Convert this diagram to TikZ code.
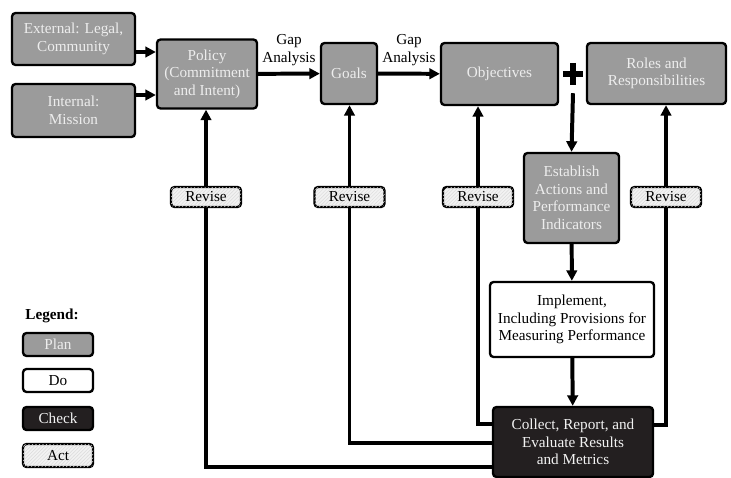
\documentclass[tikz,border=0pt]{standalone}
\usepackage{fontspec}
\setmainfont{Liberation Serif}
\usetikzlibrary{arrows.meta,patterns}

\definecolor{plangray}{HTML}{9B9B9B}
\definecolor{checkblack}{HTML}{231F20}

\begin{document}
\begin{tikzpicture}[x=0.03cm, y=-0.03cm,
  box/.style = {draw, line width=2pt, rounded corners=3pt, align=center, inner sep=1pt, font=\fontsize{13}{15}\selectfont},
  planbox/.style = {box, fill=plangray, text=white!93!black},
  dobox/.style = {box, fill=white},
  checkbox/.style = {box, fill=checkblack, text=white!95!black},
  actbox/.style = {box, fill=gray!10, postaction={pattern=north east lines, pattern color=gray!28}},
  sz/.style 2 args = {minimum width=#1*0.03cm, minimum height=#2*0.03cm},
  arr/.style = {line width=3.4pt, -{Triangle[length=9pt, width=9pt]}},
  ln/.style = {line width=3.4pt, line join=miter}]
\useasboundingbox (0,0) rectangle (731,477);

% Plan boxes
\node[planbox, sz={123}{52}] (external) at (73.5,39) {External: Legal,\\Community};
\node[planbox, sz={123}{53}] (internal) at (73.5,110.5) {Internal:\\Mission};
\node[planbox, sz={100}{69}] (policy) at (207,74) {Policy\\(Commitment\\and Intent)};
\node[planbox, sz={56}{61}] (goals) at (349,73.5) {Goals};
\node[planbox, sz={117}{62}] (objectives) at (499.5,74) {Objectives};
\node[planbox, sz={139}{61}] (roles) at (656.5,73.5) {Roles and\\Responsibilities};
\node[planbox, sz={95}{90}] (establish) at (571.5,198) {Establish\\Actions and\\Performance\\Indicators};

% the plus sign
\node[sz={20}{22}, inner sep=0] (plus) at (573,74) {};
\draw[line width=5.5pt] (plus.north) -- (plus.south) (plus.west) -- (plus.east);

% Do / Check
\node[dobox, sz={164}{75}] (implement) at (572,319.5) {Implement,\\Including Provisions for\\Measuring Performance};
\node[checkbox, sz={160}{70}] (collect) at (573,442) {Collect, Report, and\\Evaluate Results\\and Metrics};

% Act
\node[actbox, sz={70}{20}] (rev1) at (206,197) {Revise};
\node[actbox, sz={70}{20}] (rev2) at (349.5,197) {Revise};
\node[actbox, sz={70}{20}] (rev3) at (478,197) {Revise};
\node[actbox, sz={70}{20}] (rev4) at (666,197) {Revise};

% Legend
\node[font=\bfseries\fontsize{13}{15}\selectfont] (legend) at (52,316) {Legend:};
\node[planbox, sz={70}{23}] (lplan) at (58,344.5) {Plan};
\node[dobox, sz={70}{23}] (ldo) at (58,380.5) {Do};
\node[checkbox, sz={70}{23}] (lcheck) at (58,418.5) {Check};
\node[actbox, sz={70}{23}] (lact) at (58,455.5) {Act};

% Arrows
\draw[arr] (external.east |- 0,52) -- (policy.west |- 0,52);
\draw[arr] (internal.east |- 0,95) -- (policy.west |- 0,95);
\draw[arr] (policy) -- node[above=2pt, align=center, font=\fontsize{13}{15}\selectfont] {Gap\\Analysis} (goals);
\draw[arr] (goals) -- node[above=2pt, align=center, font=\fontsize{13}{15}\selectfont] {Gap\\Analysis} (objectives);
\draw[arr] ([yshift=-0.24cm]plus.south) -- (establish.north);
\draw[arr] (establish) -- (implement);
\draw[arr] (implement) -- (collect);

% Revise loops
\draw[ln] (collect.west |- 0,467) -| (rev1.south);
\draw[arr] (rev1) -- (rev1 |- policy.south);
\draw[ln] (collect.west |- 0,443) -| (rev2.south);
\draw[arr] (rev2) -- (rev2 |- goals.south);
\draw[ln] (collect.west |- 0,424) -| (rev3.south);
\draw[arr] (rev3) -- (rev3 |- objectives.south);
\draw[ln] (collect.east |- 0,425) -| (rev4.south);
\draw[arr] (rev4) -- (rev4 |- roles.south);
\end{tikzpicture}
\end{document}
